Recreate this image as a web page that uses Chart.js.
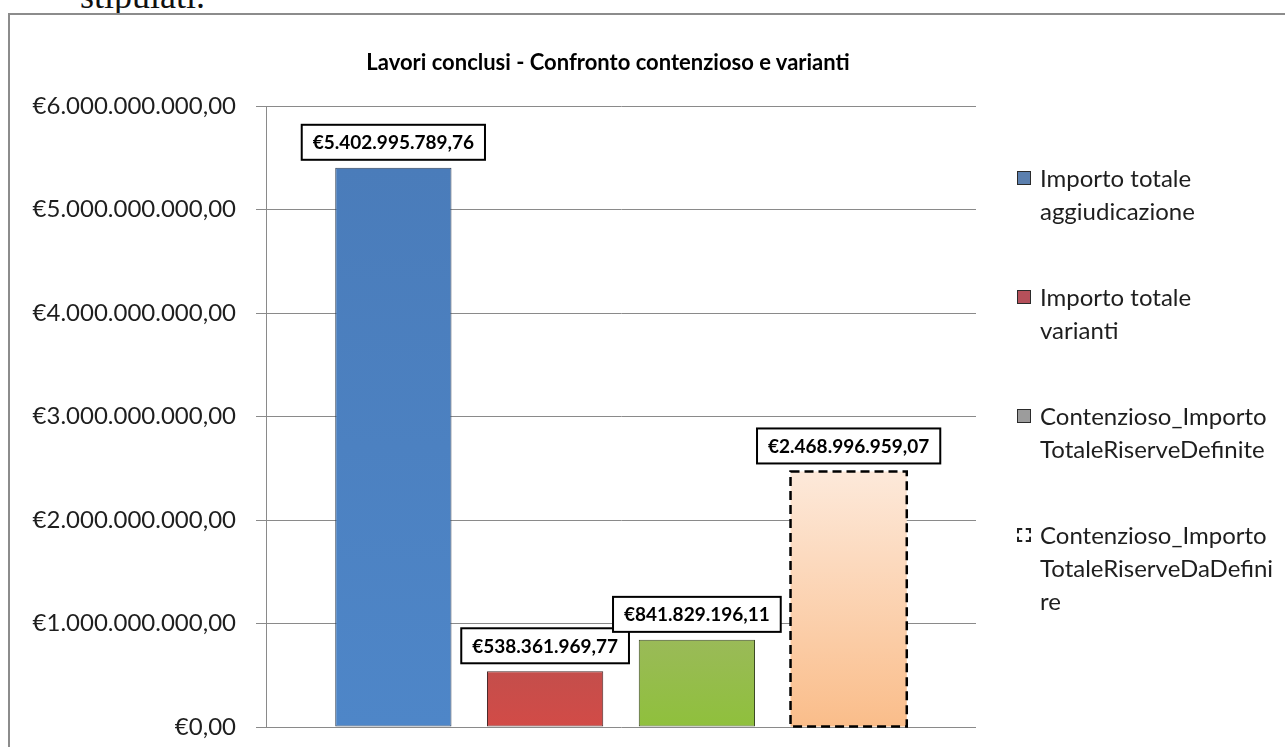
<!DOCTYPE html>
<html>
<head>
<meta charset="utf-8">
<script src="https://cdn.jsdelivr.net/npm/chart.js@4.4.1/dist/chart.umd.min.js"></script>
<style>
  html, body { margin: 0; padding: 0; background: #fff; width: 1285px; height: 747px; overflow: hidden; position: relative; }
  #above { position: absolute; left: 80px; top: -22px; font-family: "Liberation Serif", serif; font-size: 36px; line-height: 36px; color: #111; white-space: nowrap; }
  #frame { position: absolute; left: 8px; top: 13px; width: 1300px; height: 760px; border: 2px solid #8c8c8c; box-sizing: border-box; background: #fff; }
  #chart { position: absolute; left: 0; top: 0; }
  #title { position: absolute; left: 0; top: 51px; width: 1216px; text-align: center; font-family: Lato, "Open Sans", sans-serif; font-weight: bold; font-size: 22px; line-height: 22px; color: #000; white-space: nowrap; }
  #legend { position: absolute; left: 1017px; top: 161px; font-family: Lato, "Open Sans", sans-serif; font-size: 24px; line-height: 33px; color: #1e1e1e; }
  .entry { position: relative; padding-left: 23px; margin-bottom: 53px; white-space: nowrap; }
  .sw { position: absolute; left: 0; top: 10px; width: 14px; height: 14px; box-sizing: border-box; border: 1.5px solid #2b2b2b; }
</style>
</head>
<body>
<div id="above">stipulati.</div>
<div id="frame"></div>
<canvas id="chart" width="1216" height="747"></canvas>
<div id="title"></div>
<div id="legend"></div>
<script>
// ---- data ----
const categories = [''];
const seriesNames = [
  'Importo totale aggiudicazione',
  'Importo totale varianti',
  'Contenzioso_Importo TotaleRiserveDefinite',
  'Contenzioso_Importo TotaleRiserveDaDefinire'
];
const legendLines = [
  ['Importo totale', 'aggiudicazione'],
  ['Importo totale', 'varianti'],
  ['Contenzioso_Importo', 'TotaleRiserveDefinite'],
  ['Contenzioso_Importo', 'TotaleRiserveDaDefini', 're']
];
const seriesValues = [5402995789.76, 538361969.77, 841829196.11, 2468996959.07];
const yTicks = [0, 1000000000, 2000000000, 3000000000, 4000000000, 5000000000, 6000000000];
const chartTitle = 'Lavori conclusi - Confronto contenzioso e varianti';

// ---- styles ----
const colorTop = ['#4a7cba', '#c44e4b', '#9aba58', '#fde9da'];
const colorBot = ['#4e86c8', '#d24b47', '#8fc03c', '#fabd8a'];
const legendSw = ['#5b7fae', '#b5505a', '#9c9c9c', '#ffffff'];
const borderCols = ['#2f3f55', '#4a2a2a', '#3d4a25', 'rgba(0,0,0,0)'];
const dashed = [false, false, false, true];

function fmtEuro(v) {
  const neg = v < 0; v = Math.abs(v);
  const fixed = v.toFixed(2);
  let [ip, dp] = fixed.split('.');
  ip = ip.replace(/\B(?=(\d{3})+(?!\d))/g, '.');
  return (neg ? '-' : '') + '€' + ip + ',' + dp;
}

function gradFill(i) {
  return (ctx) => {
    const chart = ctx.chart;
    const area = chart.chartArea;
    if (!area) return colorBot[i];
    const ys = chart.scales.y;
    const top = ys.getPixelForValue(seriesValues[i]);
    const base = ys.getPixelForValue(0);
    const g = chart.ctx.createLinearGradient(0, top, 0, base);
    g.addColorStop(0, colorTop[i]);
    g.addColorStop(1, colorBot[i]);
    return g;
  };
}

const datasets = seriesNames.map((name, i) => ({
  label: name,
  data: [seriesValues[i]],
  backgroundColor: gradFill(i),
  borderColor: borderCols[i],
  borderWidth: dashed[i] ? 0 : 1,
  borderSkipped: false,
  categoryPercentage: 0.855,
  barPercentage: 0.766
}));

const FONT = 'Lato, "Open Sans", sans-serif';

const labelPlugin = {
  id: 'valueBoxes',
  afterDatasetsDraw(chart) {
    const ctx = chart.ctx;
    chart.data.datasets.forEach((ds, i) => {
      const meta = chart.getDatasetMeta(i);
      meta.data.forEach((el, j) => {
        const p = el.getProps(['x', 'y', 'base', 'width'], true);
        if (dashed[i]) {
          ctx.save();
          ctx.strokeStyle = '#000';
          ctx.lineWidth = 2.5;
          ctx.setLineDash([9, 5]);
          ctx.strokeRect(p.x - p.width / 2, p.y, p.width, p.base - p.y);
          ctx.restore();
        }
        const txt = fmtEuro(ds.data[j]);
        ctx.save();
        ctx.font = 'bold 19px ' + FONT;
        const tw = ctx.measureText(txt).width;
        const bw = tw + 22, bh = 35;
        const bx = p.x - bw / 2, by = p.y - 8 - bh;
        ctx.fillStyle = '#fff';
        ctx.fillRect(bx, by, bw, bh);
        ctx.strokeStyle = '#000';
        ctx.lineWidth = 2;
        ctx.strokeRect(bx, by, bw, bh);
        ctx.fillStyle = '#000';
        ctx.textAlign = 'center';
        ctx.textBaseline = 'middle';
        ctx.fillText(txt, p.x, by + bh / 2 + 1);
        ctx.restore();
      });
    });
  }
};

new Chart(document.getElementById('chart'), {
  type: 'bar',
  data: { labels: categories, datasets },
  options: {
    responsive: false,
    animation: false,
    devicePixelRatio: 1,
    layout: { padding: { left: 0, right: 240, top: 106, bottom: 20 } },
    plugins: {
      legend: { display: false },
      tooltip: { enabled: false },
      title: { display: false }
    },
    scales: {
      x: {
        display: false
      },
      y: {
        min: 0, max: 6000000000,
        afterBuildTicks: (scale) => { scale.ticks = yTicks.map(v => ({ value: v })); },
        afterFit: (scale) => {
          scale.width = 266;
          scale.paddingTop = 0;
          scale.paddingBottom = 0;
        },
        ticks: {
          padding: 20,
          color: '#1e1e1e',
          font: { family: FONT, size: 24 },
          callback: (v) => fmtEuro(v)
        },
        grid: { color: '#8a8a8a', lineWidth: 1, tickLength: 10 },
        border: { display: true, color: '#8a8a8a', width: 1 }
      }
    }
  },
  plugins: [labelPlugin]
});

document.getElementById('title').textContent = chartTitle;

// legend (HTML), built from the series arrays
const lg = document.getElementById('legend');
seriesNames.forEach((name, i) => {
  const e = document.createElement('div');
  e.className = 'entry';
  e.title = name;
  const sw = document.createElement('div');
  sw.className = 'sw';
  if (dashed[i]) {
    sw.style.border = '2px dashed #222';
    sw.style.background = '#fff';
  } else {
    sw.style.background = legendSw[i];
  }
  e.appendChild(sw);
  legendLines[i].forEach(t => {
    const l = document.createElement('div');
    l.textContent = t;
    e.appendChild(l);
  });
  lg.appendChild(e);
});
</script>
</body>
</html>
